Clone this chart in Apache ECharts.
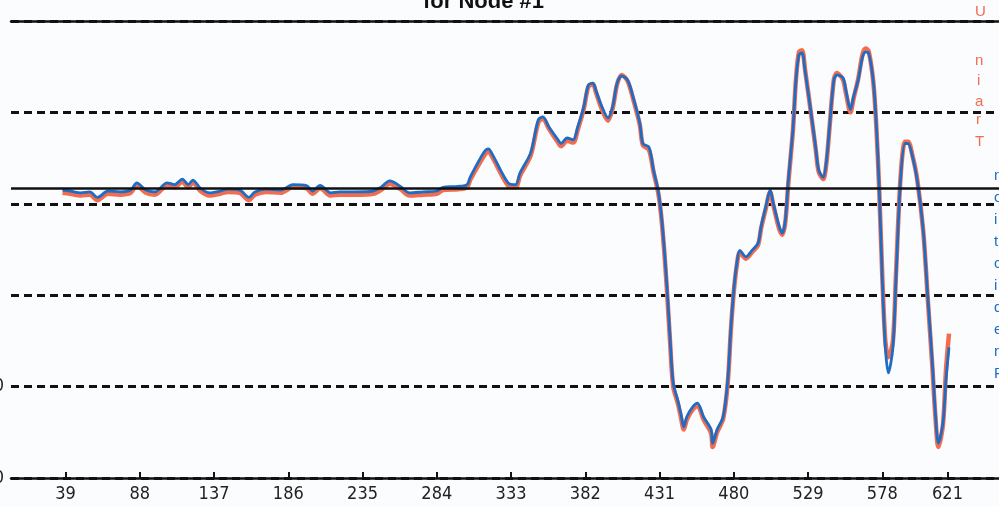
<!DOCTYPE html>
<html>
<head>
<meta charset="utf-8">
<script src="https://cdn.jsdelivr.net/npm/echarts@6/dist/echarts.min.js"></script>
<style>
  html, body { margin: 0; padding: 0; background: #fbfcfe; }
  #chart { width: 999px; height: 506px; }
</style>
</head>
<body>
<div id="chart"></div>
<script>
// sample index (x)
var xs = [37, 42, 49, 55, 60, 67, 75, 82, 86, 92, 98, 106, 111, 116, 120, 123, 128, 134, 141, 146,
  154, 160, 164, 171, 181, 189, 198, 202, 207, 214, 220, 230, 242, 247, 253, 260, 266, 275, 284, 288,
  298, 304, 306, 315, 318, 321, 331, 336, 339, 346, 351, 354, 358, 364, 366, 370, 374, 377, 381, 384,
  387, 389, 393, 397, 400, 403, 406, 410, 414, 418, 420, 424, 427, 430, 432, 434, 436, 438, 440, 443,
  445, 447, 449, 453, 456, 460, 465, 466, 469, 473, 476, 478, 480, 482, 484, 488, 492, 496, 498, 501,
  504, 506, 510, 512, 514, 516, 519, 521, 523, 525, 527, 531, 534, 536, 539, 541, 543, 546, 548, 552,
  554, 557, 559, 562, 565, 567, 569, 572, 574, 576, 578, 580, 582, 585, 587, 590, 593, 595, 598, 601,
  605, 608, 611, 613, 615, 618, 620, 622];

// blue series
var predicted = [315, 314, 312, 313, 307, 314, 313, 315, 323, 315, 313, 323, 321, 327, 321, 326, 317, 312, 314, 316,
  315, 307, 313, 316, 315, 321, 320, 314, 320, 312, 313, 313, 314, 318, 325, 319, 312, 313, 314, 318,
  319, 321, 329, 356, 360, 353, 323, 321, 334, 356, 392, 395, 384, 370, 366, 372, 370, 384, 406, 430,
  432, 424, 406, 394, 406, 432, 440, 435, 414, 388, 366, 362, 337, 315, 290, 253, 206, 151, 104, 85,
  71, 56, 67, 78, 82, 67, 53, 38, 53, 67, 107, 162, 206, 235, 249, 242, 249, 257, 275, 296,
  315, 301, 275, 268, 282, 326, 381, 435, 463, 465, 446, 399, 362, 337, 329, 345, 381, 435, 441, 438,
  424, 403, 417, 435, 461, 466, 465, 435, 388, 315, 217, 143, 115, 143, 217, 326, 366, 366, 351, 326,
  271, 198, 126, 71, 38, 60, 107, 143];

// orange series
var train = [312, 311, 309, 310, 304, 311, 310, 312, 320, 312, 310, 320, 318, 324, 318, 323, 314, 309, 311, 313,
  312, 304, 310, 313, 312, 318, 317, 311, 317, 309, 310, 310, 311, 315, 322, 316, 309, 310, 311, 315,
  316, 318, 326, 352, 357, 350, 320, 318, 331, 353, 389, 393, 382, 367, 363, 369, 367, 381, 404, 428,
  431, 422, 403, 391, 404, 431, 441, 434, 412, 386, 364, 359, 335, 313, 288, 250, 202, 147, 100, 82,
  67, 53, 64, 75, 79, 64, 49, 34, 50, 65, 104, 160, 204, 233, 247, 240, 247, 255, 273, 294,
  313, 299, 272, 266, 280, 323, 380, 436, 466, 468, 447, 398, 360, 335, 327, 343, 380, 436, 443, 436,
  421, 400, 415, 436, 464, 470, 467, 434, 386, 313, 220, 150, 132, 150, 222, 328, 368, 368, 352, 327,
  270, 196, 122, 68, 34, 58, 118, 158];

var tickValues = [39, 88, 137, 186, 235, 284, 333, 382, 431, 480, 529, 578, 621];
var meanLevel = 317;

function pairs(ys) {
  return xs.map(function (x, i) { return [x, ys[i]]; });
}

var labelFont = "'Liberation Sans Narrow', 'DejaVu Sans Condensed', 'Liberation Sans', sans-serif";

var myChart = echarts.init(document.getElementById('chart'));
myChart.setOption({
  backgroundColor: '#fbfcfe',
  animation: false,
  title: {
    text: 'for Node #1',
    left: 418,
    top: -14,
    textStyle: { fontFamily: 'Liberation Sans', fontSize: 22, fontWeight: 'bold', color: '#111' }
  },
  grid: { left: 11, right: 0, top: 21, bottom: 28, outerBoundsMode: 'none', containLabel: false },
  xAxis: [{
    type: 'value',
    min: 3,
    max: 655,
    name: 'Time (hours)',
    nameLocation: 'middle',
    nameGap: 23,
    nameTextStyle: { fontFamily: labelFont, fontSize: 17, color: '#222' },
    axisLine: { lineStyle: { color: '#111', width: 2.5 } },
    axisTick: { customValues: tickValues, inside: true, length: 6, lineStyle: { color: '#111', width: 2 } },
    axisLabel: { customValues: tickValues, fontFamily: labelFont, fontSize: 18, color: '#222', margin: 7 },
    splitLine: { show: false }
  }, {
    type: 'value',
    position: 'top',
    min: 3,
    max: 655,
    axisLine: { lineStyle: { color: '#111', width: 2.5 } },
    axisTick: { show: false },
    axisLabel: { show: false },
    splitLine: { show: false }
  }],
  yAxis: {
    type: 'value',
    min: 0,
    max: 500,
    interval: 100,
    axisLine: { show: false },
    axisTick: { show: false },
    axisLabel: {
      margin: 7,
      fontFamily: labelFont,
      fontSize: 18,
      color: '#222',
      formatter: function (v) { return v <= 100 ? String(v) : ''; }
    },
    splitLine: { lineStyle: { color: '#111', width: 3, type: [8, 5] } }
  },
  series: [{
    type: 'line',
    name: 'Train',
    data: pairs(train),
    symbol: 'none',
    smooth: 0.3,
    lineStyle: { color: '#f26c4f', width: 4.5 },
    z: 2
  }, {
    type: 'line',
    name: 'Prediction',
    data: pairs(predicted),
    symbol: 'none',
    smooth: 0.3,
    lineStyle: { color: '#1f6cc4', width: 2.8 },
    z: 3,
    markLine: {
      silent: true,
      symbol: 'none',
      label: { show: false },
      lineStyle: { color: '#111', width: 2.5, type: 'solid' },
      data: [{ yAxis: meanLevel }]
    }
  }],
  graphic: [
    { type: 'text', left: 975, top: 4, style: { text: 'U', fill: '#f26c4f', font: '15px Liberation Sans' } },
    { type: 'text', left: 975, top: 53, style: { text: 'n', fill: '#f26c4f', font: '15px Liberation Sans' } },
    { type: 'text', left: 977, top: 73, style: { text: 'i', fill: '#f26c4f', font: '15px Liberation Sans' } },
    { type: 'text', left: 975, top: 94, style: { text: 'a', fill: '#f26c4f', font: '15px Liberation Sans' } },
    { type: 'text', left: 976, top: 112, style: { text: 'r', fill: '#f26c4f', font: '15px Liberation Sans' } },
    { type: 'text', left: 975, top: 134, style: { text: 'T', fill: '#f26c4f', font: '15px Liberation Sans' } },
    { type: 'text', left: 994, top: 165, style: { text: 'n\no\ni\nt\nc\ni\nd\ne\nr\nP', fill: '#1f6cc4', font: '15px Liberation Sans', lineHeight: 22 } }
  ]
});
</script>
</body>
</html>
